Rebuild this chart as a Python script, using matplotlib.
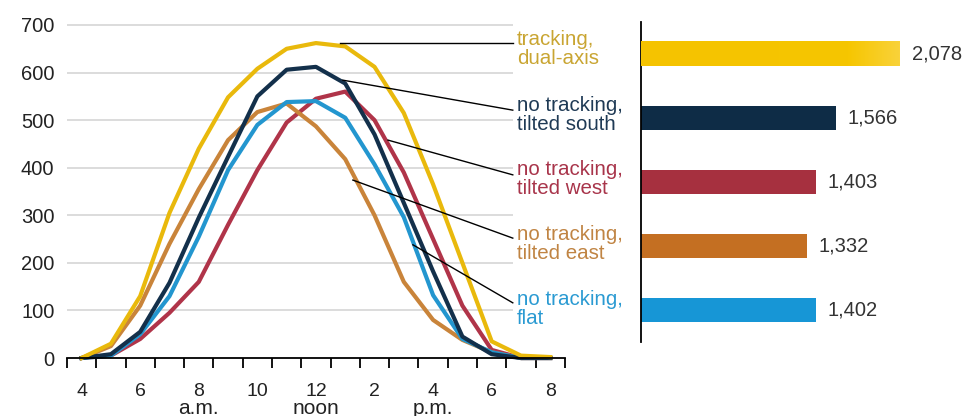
import numpy as np
import matplotlib
matplotlib.use("Agg")
import matplotlib.pyplot as plt

plt.rcParams['font.family'] = ['Liberation Sans', 'DejaVu Sans']

# hourly output, 4 a.m. .. 8 p.m.
hours = list(range(4, 21))
dual_axis = [0, 30, 130, 305, 440, 548, 608, 650, 662, 655, 612, 515, 365, 200, 35, 5, 2]
tilted_south = [0, 8, 55, 158, 295, 423, 550, 606, 612, 577, 470, 326, 182, 45, 8, 0, 0]
tilted_west = [0, 5, 40, 95, 160, 280, 395, 495, 545, 560, 500, 390, 250, 110, 17, 0, 0]
tilted_east = [0, 25, 110, 240, 355, 458, 517, 535, 487, 418, 300, 160, 80, 38, 12, 0, 0]
flat = [0, 5, 50, 130, 255, 395, 490, 538, 540, 505, 407, 296, 132, 40, 12, 0, 0]

series_names = ["tracking,\ndual-axis", "no tracking,\ntilted south", "no tracking,\ntilted west",
                "no tracking,\ntilted east", "no tracking,\nflat"]
totals = [2078, 1566, 1403, 1332, 1402]

tick_hours = [4, 6, 8, 10, 12, 14, 16, 18, 20]
tick_labels = ["4", "6", "8", "10", "12", "2", "4", "6", "8"]
period_hours = [8, 12, 16]
period_labels = ["a.m.", "noon", "p.m."]

line_colors = ["#E9B90C", "#13304B", "#B03449", "#C9843A", "#2396CF"]
text_colors = ["#C9A532", "#1F3A55", "#A8344A", "#C08443", "#2A9AD2"]
bar_colors = ["#F5C300", "#0E2C46", "#A6303F", "#C46F22", "#1796D6"]

fig = plt.figure(figsize=(9.69, 4.16), dpi=100)

# ---- line chart
ax = fig.add_axes([0.0691, 0.1394, 0.5139, 0.8234])
ax.set_xlim(3.5, 20.5)
ax.set_ylim(0, 720)

series = [dual_axis, tilted_south, tilted_west, tilted_east, flat]
order = [2, 3, 4, 1, 0]
for i in order:
    ax.plot(hours, series[i], color=line_colors[i], lw=3.0, solid_joinstyle='round', zorder=3 + order.index(i),
            clip_on=False)

for v in range(100, 800, 100):
    ax.hlines(v, 3.5, 18.72, color="#D9D9D9", lw=1.3, zorder=1)

for s in ['top', 'right', 'left']:
    ax.spines[s].set_visible(False)
ax.spines['bottom'].set_linewidth(1.3)
ax.spines['bottom'].set_zorder(10)

ax.set_yticks(range(0, 800, 100))
ax.tick_params(axis='y', length=0, pad=9, labelsize=14.5, labelcolor="#222222")

ax.set_xticks(np.arange(3.5, 21, 1.0))
ax.set_xticklabels([])
ax.tick_params(axis='x', which='major', direction='out', length=7, width=1.3)
ax.set_xticks(tick_hours, minor=True)
ax.set_xticklabels(tick_labels, minor=True)
ax.tick_params(axis='x', which='minor', length=0, pad=18, labelsize=14, labelcolor="#222222")

for h, lab in zip(period_hours, period_labels):
    ax.text(h, -0.147, lab, transform=ax.get_xaxis_transform(), ha='center', va='center',
            fontsize=15, color="#222222")

# labels with leader lines
label_y = [649, 511, 377, 239, 103]
leader_start = [(12.82, 662), (12.92, 584), (14.46, 458), (13.26, 374), (15.31, 238)]
leader_end = [(18.72, 662), (18.72, 521), (18.72, 385), (18.72, 252), (18.72, 116)]
for i in range(5):
    ax.plot([leader_start[i][0], leader_end[i][0]], [leader_start[i][1], leader_end[i][1]],
            color="black", lw=1.0, zorder=20, clip_on=False)
    ax.text(18.87, label_y[i], series_names[i], color=text_colors[i], fontsize=14.8,
            ha='left', va='center', linespacing=1.0, clip_on=False)

# ---- bar chart
bx = fig.add_axes([0.6615, 0.1779, 0.3385, 0.7692])
ypos = np.arange(len(totals))
bars = bx.barh(ypos, totals, height=0.39, color=bar_colors, zorder=2)
# slight highlight at the end of the tracking bar
grad = np.linspace(0, 1, 256).reshape(1, -1)
cm = matplotlib.colors.LinearSegmentedColormap.from_list(
    "g", [(0, "#F5C300"), (0.8, "#F6C600"), (1, "#F9D23A")])
bx.imshow(grad, extent=[0, totals[0], -0.195, 0.195], aspect='auto', zorder=3,
          cmap=cm, clip_path=bars[0], clip_on=True)
bx.set_ylim(4.5, -0.5)
bx.set_xlim(0, 2632)
for y, v in zip(ypos, totals):
    bx.text(v + 95, y, f"{v:,}", ha='left', va='center', fontsize=14.5, color="#333333")
for s in ['top', 'right', 'bottom']:
    bx.spines[s].set_visible(False)
bx.spines['left'].set_linewidth(1.3)
bx.set_xticks([])
bx.set_yticks([])

fig.savefig("out.png", dpi=100, facecolor="white")
